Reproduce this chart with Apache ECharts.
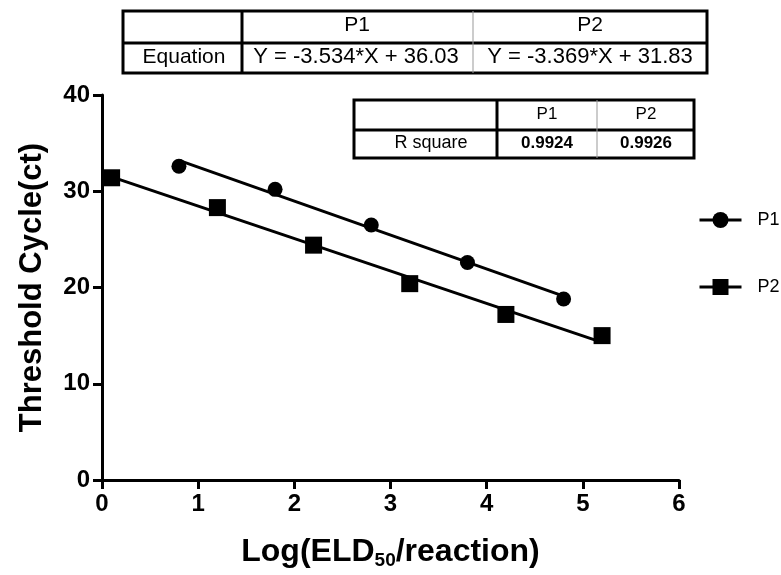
<!DOCTYPE html>
<html>
<head>
<meta charset="utf-8">
<script src="https://cdn.jsdelivr.net/npm/echarts@6/dist/echarts.min.js"></script>
<style>
  html, body { margin: 0; padding: 0; background: #fff; }
  #chartDom { width: 781px; height: 575px; }
</style>
</head>
<body>
<div id="chartDom"></div>
<script>
// values
var p1Points = [[0.8, 32.6], [1.8, 30.2], [2.8, 26.5], [3.8, 22.6], [4.8, 18.8]];
var p2Points = [[0.1, 31.4], [1.2, 28.3], [2.2, 24.4], [3.2, 20.4], [4.2, 17.2], [5.2, 15.0]];
// fitted lines, ends of each drawn segment
var p1Fit = [[0.8, 33.2], [4.8, 19.1]];
var p2Fit = [[0.1, 31.5], [5.2, 14.3]];
var seriesNames = ['P1', 'P2'];
var equations = ['Y = -3.534*X + 36.03', 'Y = -3.369*X + 31.83'];
var rSquare = ['0.9924', '0.9926'];

var font = 'Liberation Sans, Arial, sans-serif';

function txt(x, y, s, size, weight) {
    return {
        type: 'text', x: x, y: y,
        style: { text: s, font: (weight || 'normal') + ' ' + size + 'px ' + font, fill: '#000', align: 'center', verticalAlign: 'middle' }
    };
}
function ln(x1, y1, x2, y2, w, c) {
    return { type: 'line', shape: { x1: x1, y1: y1, x2: x2, y2: y2 }, style: { stroke: c || '#000', lineWidth: w } };
}

var graphics = [
    // equation table
    { type: 'rect', shape: { x: 123, y: 11, width: 584, height: 62 }, style: { fill: '#fff', stroke: '#000', lineWidth: 3 } },
    ln(123, 43, 707, 43, 3),
    ln(242, 11, 242, 73, 3),
    ln(473, 11, 473, 73, 1, '#999'),
    txt(357, 25, seriesNames[0], 21),
    txt(590, 25, seriesNames[1], 21),
    txt(184, 57, 'Equation', 21),
    txt(356, 57, equations[0], 22),
    txt(590, 57, equations[1], 22),
    // r square table
    { type: 'rect', shape: { x: 354, y: 100, width: 340, height: 58 }, style: { fill: '#fff', stroke: '#000', lineWidth: 3 } },
    ln(354, 130, 694, 130, 3),
    ln(497, 100, 497, 158, 3),
    ln(597, 100, 597, 158, 1, '#999'),
    txt(547, 114, seriesNames[0], 17),
    txt(646, 114, seriesNames[1], 17),
    txt(431, 143, 'R square', 18),
    txt(547, 143, rSquare[0], 17, 'bold'),
    txt(646, 143, rSquare[1], 17, 'bold')
];

var chartDom = echarts.init(document.getElementById('chartDom'));
chartDom.setOption({
    animation: false,
    backgroundColor: '#fff',
    textStyle: { fontFamily: font },
    grid: { left: 102, right: 102, top: 95, bottom: 94, containLabel: false },
    legend: {
        data: seriesNames,
        orient: 'vertical',
        left: 693, top: 206,
        itemWidth: 42, itemHeight: 20, itemGap: 49,
        formatter: function (name) { return '{t|' + name + '}'; },
        textStyle: {
            color: '#000', fontFamily: font,
            rich: { t: { fontSize: 18, color: '#000', fontFamily: font, padding: [0, 0, 0, 11] } }
        },
        lineStyle: { width: 3, color: '#000', opacity: 1 }
    },
    xAxis: {
        type: 'value', min: 0, max: 6, interval: 1,
        name: '{a|Log(ELD}{b|50}{a|/reaction)}',
        nameLocation: 'middle', nameGap: 55,
        nameTextStyle: {
            rich: {
                a: { fontSize: 32, fontWeight: 'bold', color: '#000', fontFamily: font },
                b: { fontSize: 19, fontWeight: 'bold', color: '#000', fontFamily: font, padding: [16, 0, 0, 0] }
            }
        },
        axisLine: { lineStyle: { color: '#000', width: 3 } },
        axisTick: { inside: false, length: 9, lineStyle: { color: '#000', width: 3 } },
        axisLabel: { fontSize: 24, fontWeight: 'bold', color: '#000', margin: 12 },
        splitLine: { show: false }
    },
    yAxis: {
        type: 'value', min: 0, max: 40, interval: 10,
        name: 'Threshold Cycle(ct)',
        nameLocation: 'middle', nameGap: 54,
        nameTextStyle: { fontSize: 31, fontWeight: 'bold', color: '#000' },
        axisLine: { show: true, lineStyle: { color: '#000', width: 3 } },
        axisTick: { show: true, length: 9, lineStyle: { color: '#000', width: 3 } },
        axisLabel: { fontSize: 24, fontWeight: 'bold', color: '#000', margin: 12 },
        splitLine: { show: false }
    },
    series: [{
        name: 'P1 fit', type: 'line', data: p1Fit, symbol: 'none',
        lineStyle: { color: '#000', width: 3 }, silent: true
    }, {
        name: 'P2 fit', type: 'line', data: p2Fit, symbol: 'none',
        lineStyle: { color: '#000', width: 3 }, silent: true
    }, {
        name: seriesNames[0], type: 'line', data: p1Points,
        symbol: 'circle', symbolSize: 15,
        itemStyle: { color: '#000' },
        lineStyle: { width: 0, opacity: 0 }
    }, {
        name: seriesNames[1], type: 'line', data: p2Points,
        symbol: 'rect', symbolSize: 17,
        itemStyle: { color: '#000' },
        lineStyle: { width: 0, opacity: 0 }
    }],
    graphic: graphics
});
</script>
</body>
</html>
